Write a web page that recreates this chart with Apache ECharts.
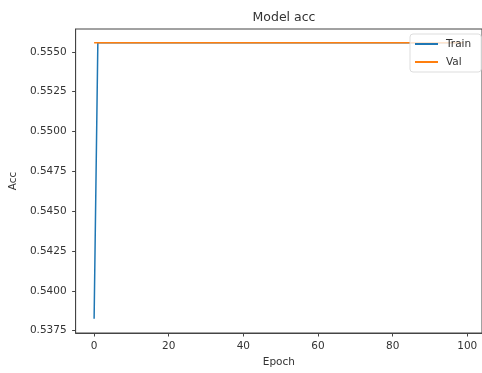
<!DOCTYPE html>
<html>
<head>
<meta charset="utf-8">
<script src="https://cdn.jsdelivr.net/npm/echarts@6/dist/echarts.min.js"></script>
<style>
  html, body { margin: 0; padding: 0; background: #fff; }
  #chart { width: 482px; height: 373px; }
</style>
</head>
<body>
<div id="chart"></div>
<script>
// Training history: accuracy per epoch
const epochs = [
  0, 1, 2, 3, 4, 5, 6, 7, 8, 9,
  10, 11, 12, 13, 14, 15, 16, 17, 18, 19,
  20, 21, 22, 23, 24, 25, 26, 27, 28, 29,
  30, 31, 32, 33, 34, 35, 36, 37, 38, 39,
  40, 41, 42, 43, 44, 45, 46, 47, 48, 49,
  50, 51, 52, 53, 54, 55, 56, 57, 58, 59,
  60, 61, 62, 63, 64, 65, 66, 67, 68, 69,
  70, 71, 72, 73, 74, 75, 76, 77, 78, 79,
  80, 81, 82, 83, 84, 85, 86, 87, 88, 89,
  90, 91, 92, 93, 94, 95, 96, 97, 98, 99
];
const trainAcc = [
  0.53825, 0.55556, 0.55556, 0.55556, 0.55556, 0.55556, 0.55556, 0.55556, 0.55556, 0.55556,
  0.55556, 0.55556, 0.55556, 0.55556, 0.55556, 0.55556, 0.55556, 0.55556, 0.55556, 0.55556,
  0.55556, 0.55556, 0.55556, 0.55556, 0.55556, 0.55556, 0.55556, 0.55556, 0.55556, 0.55556,
  0.55556, 0.55556, 0.55556, 0.55556, 0.55556, 0.55556, 0.55556, 0.55556, 0.55556, 0.55556,
  0.55556, 0.55556, 0.55556, 0.55556, 0.55556, 0.55556, 0.55556, 0.55556, 0.55556, 0.55556,
  0.55556, 0.55556, 0.55556, 0.55556, 0.55556, 0.55556, 0.55556, 0.55556, 0.55556, 0.55556,
  0.55556, 0.55556, 0.55556, 0.55556, 0.55556, 0.55556, 0.55556, 0.55556, 0.55556, 0.55556,
  0.55556, 0.55556, 0.55556, 0.55556, 0.55556, 0.55556, 0.55556, 0.55556, 0.55556, 0.55556,
  0.55556, 0.55556, 0.55556, 0.55556, 0.55556, 0.55556, 0.55556, 0.55556, 0.55556, 0.55556,
  0.55556, 0.55556, 0.55556, 0.55556, 0.55556, 0.55556, 0.55556, 0.55556, 0.55556, 0.55556
];
const valAcc = [
  0.55556, 0.55556, 0.55556, 0.55556, 0.55556, 0.55556, 0.55556, 0.55556, 0.55556, 0.55556,
  0.55556, 0.55556, 0.55556, 0.55556, 0.55556, 0.55556, 0.55556, 0.55556, 0.55556, 0.55556,
  0.55556, 0.55556, 0.55556, 0.55556, 0.55556, 0.55556, 0.55556, 0.55556, 0.55556, 0.55556,
  0.55556, 0.55556, 0.55556, 0.55556, 0.55556, 0.55556, 0.55556, 0.55556, 0.55556, 0.55556,
  0.55556, 0.55556, 0.55556, 0.55556, 0.55556, 0.55556, 0.55556, 0.55556, 0.55556, 0.55556,
  0.55556, 0.55556, 0.55556, 0.55556, 0.55556, 0.55556, 0.55556, 0.55556, 0.55556, 0.55556,
  0.55556, 0.55556, 0.55556, 0.55556, 0.55556, 0.55556, 0.55556, 0.55556, 0.55556, 0.55556,
  0.55556, 0.55556, 0.55556, 0.55556, 0.55556, 0.55556, 0.55556, 0.55556, 0.55556, 0.55556,
  0.55556, 0.55556, 0.55556, 0.55556, 0.55556, 0.55556, 0.55556, 0.55556, 0.55556, 0.55556,
  0.55556, 0.55556, 0.55556, 0.55556, 0.55556, 0.55556, 0.55556, 0.55556, 0.55556, 0.55556
];
const xTicks = [0, 20, 40, 60, 80, 100];
const yTicks = [0.5375, 0.5400, 0.5425, 0.5450, 0.5475, 0.5500, 0.5525, 0.5550];

const FONT = 'DejaVu Sans';
const INK = '#333';
const SPINE = '#444';

const chart = echarts.init(document.getElementById('chart'), null, { renderer: 'canvas' });

const pair = (xs, ys) => xs.map((x, i) => [x, ys[i]]);

chart.setOption({
  animation: false,
  backgroundColor: '#fff',
  textStyle: { fontFamily: FONT },
  title: {
    text: 'Model acc',
    left: 279,
    top: 6,
    textAlign: 'center',
    textStyle: { fontFamily: FONT, fontSize: 12.5, fontWeight: 'normal', color: INK }
  },
  grid: {
    left: 74, top: 29, right: -4, bottom: 39,
    show: true, borderColor: SPINE, borderWidth: 1, backgroundColor: 'transparent'
  },
  legend: {
    orient: 'vertical',
    left: 410,
    top: 34,
    padding: [4, 10, 4, 5],
    itemWidth: 23,
    itemHeight: 2,
    itemGap: 6,
    icon: 'rect',
    backgroundColor: 'rgba(255,255,255,0.8)',
    borderColor: '#ddd',
    borderWidth: 1,
    borderRadius: 3,
    textStyle: { fontFamily: FONT, fontSize: 10.5, color: INK, padding: [0, 0, 0, 3], lineHeight: 12 },
    data: ['Train', 'Val']
  },
  xAxis: {
    type: 'value',
    min: -4.95,
    max: 103.95,
    name: 'Epoch',
    nameLocation: 'middle',
    nameGap: 24,
    nameTextStyle: { fontFamily: FONT, fontSize: 10.5, color: INK },
    splitLine: { show: false },
    axisLine: { show: true, onZero: false, lineStyle: { color: SPINE, width: 1 } },
    axisTick: { show: true, inside: false, length: 3.5, lineStyle: { color: SPINE }, customValues: xTicks },
    axisLabel: {
      fontFamily: FONT, fontSize: 10.5, color: INK, margin: 8,
      customValues: xTicks,
      formatter: v => String(Math.round(v))
    }
  },
  yAxis: {
    type: 'value',
    min: 0.53735,
    max: 0.55643,
    name: 'Acc',
    nameLocation: 'middle',
    nameGap: 56,
    nameTextStyle: { fontFamily: FONT, fontSize: 10.5, color: INK },
    splitLine: { show: false },
    axisLine: { show: true, onZero: false, lineStyle: { color: SPINE, width: 1 } },
    axisTick: { show: true, inside: false, length: 3.5, lineStyle: { color: SPINE }, customValues: yTicks },
    axisLabel: {
      fontFamily: FONT, fontSize: 10.5, color: INK, margin: 9,
      customValues: yTicks,
      formatter: v => v.toFixed(4)
    }
  },
  series: [
    {
      name: 'Train',
      type: 'line',
      data: pair(epochs, trainAcc),
      showSymbol: false,
      symbol: 'none',
      lineStyle: { color: '#1f77b4', width: 1.5 },
      itemStyle: { color: '#1f77b4' },
      z: 2
    },
    {
      name: 'Val',
      type: 'line',
      data: pair(epochs, valAcc),
      showSymbol: false,
      symbol: 'none',
      lineStyle: { color: '#ff7f0e', width: 1.5 },
      itemStyle: { color: '#ff7f0e' },
      z: 3
    }
  ]
});
</script>
</body>
</html>
